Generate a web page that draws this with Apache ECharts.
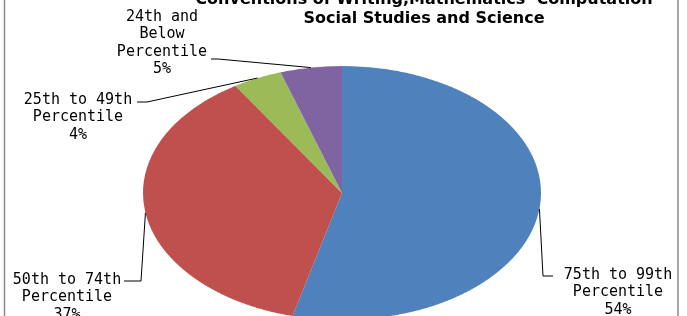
<!DOCTYPE html>
<html><head><meta charset="utf-8">
<script src="https://cdn.jsdelivr.net/npm/echarts@6/dist/echarts.min.js"></script>
<style>
html,body{margin:0;padding:0;background:#fff;overflow:hidden;width:687px;height:316px;}
#wrap{position:relative;width:687px;height:316px;overflow:hidden;background:#fff;}
#pie{position:absolute;left:143px;top:-6px;width:398px;height:398px;transform:scaleY(0.638);transform-origin:50% 50%;}
#over{position:absolute;left:0;top:0;width:687px;height:316px;}
</style></head><body>
<div id="wrap"><div id="pie"></div><div id="over"></div></div>
<script>
// ---- data ----
const categories = ['75th to 99th Percentile', '50th to 74th Percentile', '25th to 49th Percentile', '24th and Below Percentile'];
const labelTexts = [['75th to 99th', 'Percentile'], ['50th to 74th', 'Percentile'], ['25th to 49th', 'Percentile'], ['24th and', 'Below', 'Percentile']];
const values = [54, 37, 4, 5];
const colors = ['#4F81BD', '#C0504D', '#9BBB59', '#8064A2'];
const titleLines = ['Conventions of Writing,Mathematics  Computation', 'Social Studies and Science'];

// ---- layout (not data) ----
const CX = 342, CY = 193, RX = 199, RY = 127;
const labelPos = [
  { x: 618, y: 275, bend: [543, 276], end: [553, 276] },
  { x: 67,  y: 280, bend: [141, 281], end: [124, 281] },
  { x: 78,  y: 100, bend: [147, 102], end: [137, 102] },
  { x: 162, y: 17,  bend: [218, 59],  end: [211, 59] }
];
const LH = 17.5;

// pie (drawn circular, squashed to the reference's ellipse by CSS)
const pie = echarts.init(document.getElementById('pie'));
pie.setOption({
  animation: false,
  series: [{
    type: 'pie',
    radius: '100%',
    center: ['50%', '50%'],
    startAngle: 90,
    clockwise: true,
    silent: true,
    label: { show: false },
    labelLine: { show: false },
    itemStyle: { borderWidth: 0 },
    data: categories.map((n, i) => ({ name: n, value: values[i], itemStyle: { color: colors[i] } }))
  }]
});

// overlay: frame, title, labels with leader lines
const total = values.reduce((a, b) => a + b, 0);
let cum = 0;
const elements = [];
elements.push({
  type: 'rect', shape: { x: 4.5, y: -10, width: 673.5, height: 340 },
  style: { fill: 'none', stroke: '#8a8a8a', lineWidth: 1.5 }, silent: true
});
titleLines.forEach((t, i) => {
  elements.push({
    type: 'text', x: 424, y: 0 + i * 18.5,
    style: { text: t, fill: '#000', font: 'bold 16px "DejaVu Sans"', textAlign: 'center', textVerticalAlign: 'middle' },
    silent: true
  });
});
values.forEach((v, i) => {
  const mid = (cum + v / 2) / total * Math.PI * 2;
  cum += v;
  const ax = CX + RX * Math.sin(mid), ay = CY - RY * Math.cos(mid);
  const p = labelPos[i];
  elements.push({
    type: 'polyline', shape: { points: [[ax, ay], p.bend, p.end] },
    style: { stroke: '#000', lineWidth: 1, fill: 'none' }, silent: true
  });
  const pct = Math.round(v / total * 100) + '%';
  elements.push({
    type: 'text', x: p.x, y: p.y - LH / 2,
    style: {
      text: labelTexts[i].concat([pct]).join('\n'),
      fill: '#000', font: '15px "DejaVu Sans Mono"', lineHeight: LH,
      textAlign: 'center', textVerticalAlign: 'top'
    },
    silent: true
  });
});
const over = echarts.init(document.getElementById('over'));
over.setOption({ animation: false, graphic: { elements: elements } });
</script>
</body></html>
